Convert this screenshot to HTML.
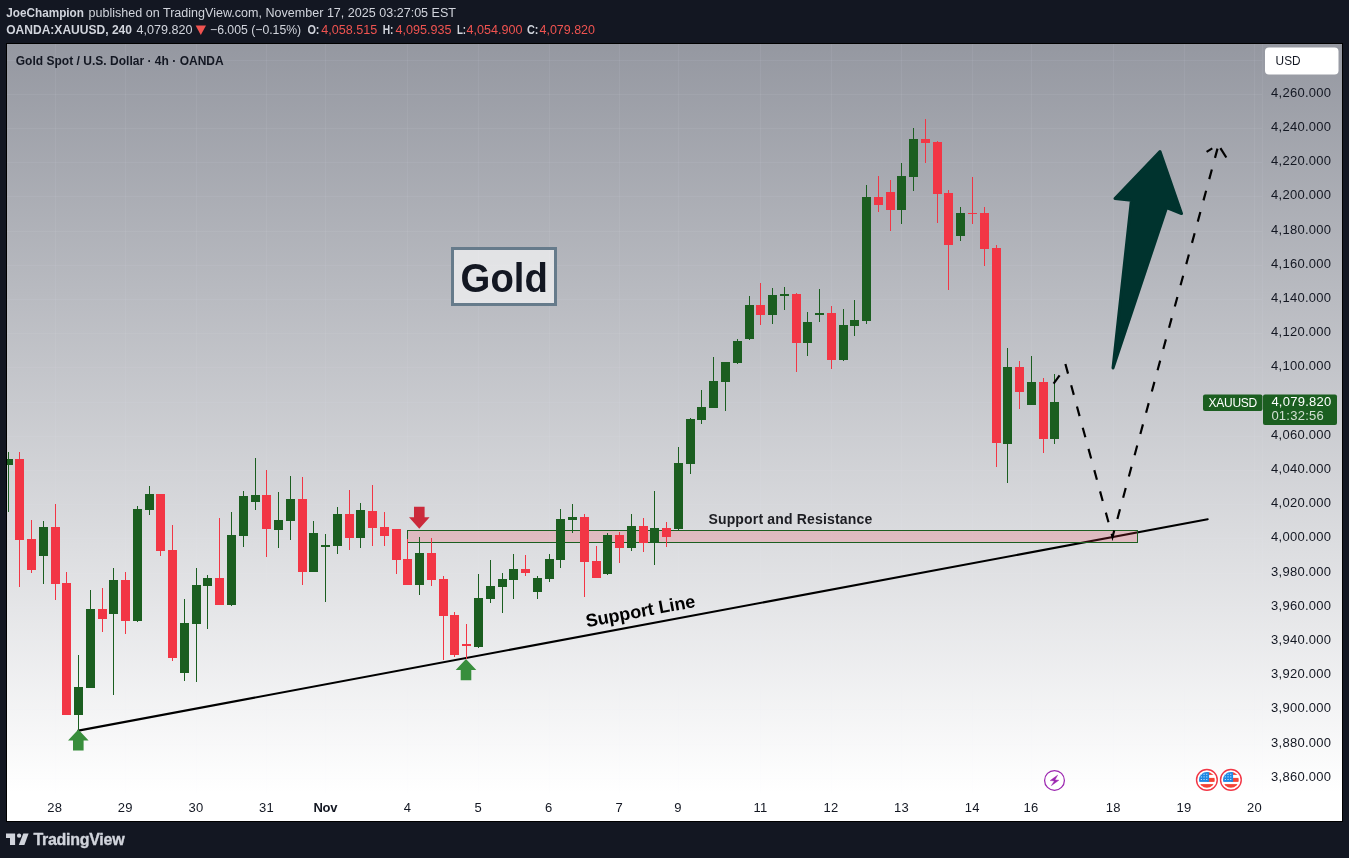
<!DOCTYPE html>
<html lang="en"><head><meta charset="utf-8"><title>Gold Spot / U.S. Dollar</title>
<style>
html,body{margin:0;padding:0}
body{width:1349px;height:858px;background:#131722;overflow:hidden;position:relative;font-family:"Liberation Sans",sans-serif}
svg{position:absolute;left:0;top:0;will-change:transform}
svg text{font-family:"Liberation Sans",sans-serif}
.ax{font-size:13px;fill:#131722;letter-spacing:.25px}
</style></head><body>
<svg width="1349" height="858" viewBox="0 0 1349 858">
<defs><linearGradient id="bg" x1="0" y1="0" x2="0" y2="1"><stop offset="0" stop-color="#9598a1"/><stop offset="1" stop-color="#ffffff"/></linearGradient>
<clipPath id="cp"><rect x="7" y="44" width="1335" height="777"/></clipPath></defs>
<rect x="6" y="43" width="1337" height="779" fill="#000"/>
<rect x="7" y="44" width="1335" height="777" fill="#fff"/>
<rect x="7" y="44" width="1335" height="749" fill="url(#bg)"/>
<g stroke="#f0f3fa" stroke-opacity="0.065" stroke-width="1" shape-rendering="crispEdges">
<line x1="55.5" y1="44" x2="55.5" y2="793"/>
<line x1="125.5" y1="44" x2="125.5" y2="793"/>
<line x1="196.5" y1="44" x2="196.5" y2="793"/>
<line x1="266.5" y1="44" x2="266.5" y2="793"/>
<line x1="325.5" y1="44" x2="325.5" y2="793"/>
<line x1="407.5" y1="44" x2="407.5" y2="793"/>
<line x1="478.5" y1="44" x2="478.5" y2="793"/>
<line x1="549.5" y1="44" x2="549.5" y2="793"/>
<line x1="619.5" y1="44" x2="619.5" y2="793"/>
<line x1="678.5" y1="44" x2="678.5" y2="793"/>
<line x1="760.5" y1="44" x2="760.5" y2="793"/>
<line x1="831.5" y1="44" x2="831.5" y2="793"/>
<line x1="901.5" y1="44" x2="901.5" y2="793"/>
<line x1="972.5" y1="44" x2="972.5" y2="793"/>
<line x1="1031.5" y1="44" x2="1031.5" y2="793"/>
<line x1="1113.5" y1="44" x2="1113.5" y2="793"/>
<line x1="1184.5" y1="44" x2="1184.5" y2="793"/>
<line x1="1254.5" y1="44" x2="1254.5" y2="793"/>
<line x1="7" y1="778.5" x2="1262" y2="778.5"/>
<line x1="7" y1="744.5" x2="1262" y2="744.5"/>
<line x1="7" y1="709.5" x2="1262" y2="709.5"/>
<line x1="7" y1="675.5" x2="1262" y2="675.5"/>
<line x1="7" y1="641.5" x2="1262" y2="641.5"/>
<line x1="7" y1="607.5" x2="1262" y2="607.5"/>
<line x1="7" y1="573.5" x2="1262" y2="573.5"/>
<line x1="7" y1="538.5" x2="1262" y2="538.5"/>
<line x1="7" y1="504.5" x2="1262" y2="504.5"/>
<line x1="7" y1="470.5" x2="1262" y2="470.5"/>
<line x1="7" y1="436.5" x2="1262" y2="436.5"/>
<line x1="7" y1="402.5" x2="1262" y2="402.5"/>
<line x1="7" y1="367.5" x2="1262" y2="367.5"/>
<line x1="7" y1="333.5" x2="1262" y2="333.5"/>
<line x1="7" y1="299.5" x2="1262" y2="299.5"/>
<line x1="7" y1="265.5" x2="1262" y2="265.5"/>
<line x1="7" y1="231.5" x2="1262" y2="231.5"/>
<line x1="7" y1="196.5" x2="1262" y2="196.5"/>
<line x1="7" y1="162.5" x2="1262" y2="162.5"/>
<line x1="7" y1="128.5" x2="1262" y2="128.5"/>
<line x1="7" y1="94.5" x2="1262" y2="94.5"/>
<line x1="7" y1="60.5" x2="1262" y2="60.5"/>
<line x1="1262.5" y1="44" x2="1262.5" y2="793"/>
</g>
<line x1="78.4" y1="730.6" x2="1207.7" y2="519.2" stroke="#000" stroke-width="2.1" stroke-linecap="round"/>
<rect x="407.5" y="530.5" width="730" height="12" fill="#f23645" fill-opacity="0.2" stroke="#1b5e20" stroke-width="1"/>
<g clip-path="url(#cp)" shape-rendering="crispEdges">
<rect x="8" y="452" width="1" height="60" fill="#1b5e20"/><rect x="4" y="459" width="9" height="6" fill="#1b5e20"/>
<rect x="19" y="452" width="1" height="135" fill="#f23645"/><rect x="15" y="459" width="9" height="81" fill="#f23645"/>
<rect x="31" y="520" width="1" height="53" fill="#f23645"/><rect x="27" y="539" width="9" height="31" fill="#f23645"/>
<rect x="43" y="521" width="1" height="63" fill="#1b5e20"/><rect x="39" y="527" width="9" height="29" fill="#1b5e20"/>
<rect x="55" y="504" width="1" height="96" fill="#f23645"/><rect x="51" y="527" width="9" height="57" fill="#f23645"/>
<rect x="66" y="572" width="1" height="143" fill="#f23645"/><rect x="62" y="583" width="9" height="132" fill="#f23645"/>
<rect x="78" y="655" width="1" height="75" fill="#1b5e20"/><rect x="74" y="687" width="9" height="28" fill="#1b5e20"/>
<rect x="90" y="590" width="1" height="98" fill="#1b5e20"/><rect x="86" y="609" width="9" height="79" fill="#1b5e20"/>
<rect x="102" y="588" width="1" height="44" fill="#f23645"/><rect x="98" y="609" width="9" height="10" fill="#f23645"/>
<rect x="113" y="568" width="1" height="127" fill="#1b5e20"/><rect x="109" y="580" width="9" height="34" fill="#1b5e20"/>
<rect x="125" y="572" width="1" height="62" fill="#f23645"/><rect x="121" y="580" width="9" height="41" fill="#f23645"/>
<rect x="137" y="506" width="1" height="116" fill="#1b5e20"/><rect x="133" y="509" width="9" height="112" fill="#1b5e20"/>
<rect x="149" y="486" width="1" height="29" fill="#1b5e20"/><rect x="145" y="494" width="9" height="16" fill="#1b5e20"/>
<rect x="160" y="494" width="1" height="62" fill="#f23645"/><rect x="156" y="494" width="9" height="57" fill="#f23645"/>
<rect x="172" y="525" width="1" height="136" fill="#f23645"/><rect x="168" y="550" width="9" height="108" fill="#f23645"/>
<rect x="184" y="599" width="1" height="82" fill="#1b5e20"/><rect x="180" y="623" width="9" height="50" fill="#1b5e20"/>
<rect x="196" y="568" width="1" height="114" fill="#1b5e20"/><rect x="192" y="585" width="9" height="39" fill="#1b5e20"/>
<rect x="207" y="575" width="1" height="54" fill="#1b5e20"/><rect x="203" y="578" width="9" height="8" fill="#1b5e20"/>
<rect x="219" y="518" width="1" height="87" fill="#f23645"/><rect x="215" y="578" width="9" height="27" fill="#f23645"/>
<rect x="231" y="512" width="1" height="94" fill="#1b5e20"/><rect x="227" y="535" width="9" height="70" fill="#1b5e20"/>
<rect x="243" y="491" width="1" height="56" fill="#1b5e20"/><rect x="239" y="496" width="9" height="40" fill="#1b5e20"/>
<rect x="255" y="458" width="1" height="52" fill="#1b5e20"/><rect x="251" y="495" width="9" height="7" fill="#1b5e20"/>
<rect x="266" y="470" width="1" height="87" fill="#f23645"/><rect x="262" y="495" width="9" height="34" fill="#f23645"/>
<rect x="278" y="492" width="1" height="56" fill="#1b5e20"/><rect x="274" y="520" width="9" height="10" fill="#1b5e20"/>
<rect x="290" y="476" width="1" height="64" fill="#1b5e20"/><rect x="286" y="499" width="9" height="22" fill="#1b5e20"/>
<rect x="302" y="477" width="1" height="108" fill="#f23645"/><rect x="298" y="499" width="9" height="73" fill="#f23645"/>
<rect x="313" y="521" width="1" height="51" fill="#1b5e20"/><rect x="309" y="533" width="9" height="39" fill="#1b5e20"/>
<rect x="325" y="534" width="1" height="68" fill="#1b5e20"/><rect x="321" y="545" width="9" height="2" fill="#1b5e20"/>
<rect x="337" y="507" width="1" height="47" fill="#1b5e20"/><rect x="333" y="514" width="9" height="32" fill="#1b5e20"/>
<rect x="349" y="490" width="1" height="60" fill="#f23645"/><rect x="345" y="514" width="9" height="24" fill="#f23645"/>
<rect x="360" y="503" width="1" height="45" fill="#1b5e20"/><rect x="356" y="510" width="9" height="28" fill="#1b5e20"/>
<rect x="372" y="485" width="1" height="61" fill="#f23645"/><rect x="368" y="511" width="9" height="17" fill="#f23645"/>
<rect x="384" y="512" width="1" height="34" fill="#f23645"/><rect x="380" y="527" width="9" height="9" fill="#f23645"/>
<rect x="396" y="529" width="1" height="45" fill="#f23645"/><rect x="392" y="529" width="9" height="31" fill="#f23645"/>
<rect x="407" y="539" width="1" height="46" fill="#f23645"/><rect x="403" y="559" width="9" height="26" fill="#f23645"/>
<rect x="419" y="537" width="1" height="58" fill="#1b5e20"/><rect x="415" y="553" width="9" height="32" fill="#1b5e20"/>
<rect x="431" y="538" width="1" height="48" fill="#f23645"/><rect x="427" y="553" width="9" height="27" fill="#f23645"/>
<rect x="443" y="576" width="1" height="84" fill="#f23645"/><rect x="439" y="579" width="9" height="37" fill="#f23645"/>
<rect x="454" y="612" width="1" height="45" fill="#f23645"/><rect x="450" y="615" width="9" height="40" fill="#f23645"/>
<rect x="466" y="624" width="1" height="35" fill="#f23645"/><rect x="462" y="644" width="9" height="2" fill="#f23645"/>
<rect x="478" y="574" width="1" height="74" fill="#1b5e20"/><rect x="474" y="598" width="9" height="49" fill="#1b5e20"/>
<rect x="490" y="560" width="1" height="43" fill="#1b5e20"/><rect x="486" y="586" width="9" height="13" fill="#1b5e20"/>
<rect x="502" y="573" width="1" height="40" fill="#1b5e20"/><rect x="498" y="579" width="9" height="8" fill="#1b5e20"/>
<rect x="513" y="554" width="1" height="45" fill="#1b5e20"/><rect x="509" y="569" width="9" height="11" fill="#1b5e20"/>
<rect x="525" y="555" width="1" height="21" fill="#f23645"/><rect x="521" y="569" width="9" height="4" fill="#f23645"/>
<rect x="537" y="576" width="1" height="23" fill="#1b5e20"/><rect x="533" y="578" width="9" height="14" fill="#1b5e20"/>
<rect x="549" y="554" width="1" height="28" fill="#1b5e20"/><rect x="545" y="559" width="9" height="20" fill="#1b5e20"/>
<rect x="560" y="509" width="1" height="59" fill="#1b5e20"/><rect x="556" y="519" width="9" height="41" fill="#1b5e20"/>
<rect x="572" y="504" width="1" height="29" fill="#1b5e20"/><rect x="568" y="517" width="9" height="3" fill="#1b5e20"/>
<rect x="584" y="514" width="1" height="83" fill="#f23645"/><rect x="580" y="517" width="9" height="45" fill="#f23645"/>
<rect x="596" y="546" width="1" height="32" fill="#f23645"/><rect x="592" y="561" width="9" height="17" fill="#f23645"/>
<rect x="607" y="533" width="1" height="42" fill="#1b5e20"/><rect x="603" y="535" width="9" height="39" fill="#1b5e20"/>
<rect x="619" y="532" width="1" height="31" fill="#f23645"/><rect x="615" y="535" width="9" height="13" fill="#f23645"/>
<rect x="631" y="514" width="1" height="37" fill="#1b5e20"/><rect x="627" y="526" width="9" height="22" fill="#1b5e20"/>
<rect x="643" y="518" width="1" height="34" fill="#f23645"/><rect x="639" y="526" width="9" height="17" fill="#f23645"/>
<rect x="654" y="491" width="1" height="74" fill="#1b5e20"/><rect x="650" y="528" width="9" height="15" fill="#1b5e20"/>
<rect x="666" y="522" width="1" height="25" fill="#f23645"/><rect x="662" y="528" width="9" height="9" fill="#f23645"/>
<rect x="678" y="447" width="1" height="83" fill="#1b5e20"/><rect x="674" y="463" width="9" height="66" fill="#1b5e20"/>
<rect x="690" y="418" width="1" height="56" fill="#1b5e20"/><rect x="686" y="419" width="9" height="45" fill="#1b5e20"/>
<rect x="701" y="390" width="1" height="34" fill="#1b5e20"/><rect x="697" y="407" width="9" height="13" fill="#1b5e20"/>
<rect x="713" y="357" width="1" height="51" fill="#1b5e20"/><rect x="709" y="381" width="9" height="27" fill="#1b5e20"/>
<rect x="725" y="362" width="1" height="49" fill="#1b5e20"/><rect x="721" y="362" width="9" height="20" fill="#1b5e20"/>
<rect x="737" y="339" width="1" height="25" fill="#1b5e20"/><rect x="733" y="341" width="9" height="22" fill="#1b5e20"/>
<rect x="749" y="296" width="1" height="44" fill="#1b5e20"/><rect x="745" y="305" width="9" height="34" fill="#1b5e20"/>
<rect x="760" y="283" width="1" height="42" fill="#f23645"/><rect x="756" y="305" width="9" height="10" fill="#f23645"/>
<rect x="772" y="288" width="1" height="36" fill="#1b5e20"/><rect x="768" y="295" width="9" height="20" fill="#1b5e20"/>
<rect x="784" y="287" width="1" height="23" fill="#1b5e20"/><rect x="780" y="294" width="9" height="2" fill="#1b5e20"/>
<rect x="796" y="293" width="1" height="79" fill="#f23645"/><rect x="792" y="294" width="9" height="49" fill="#f23645"/>
<rect x="807" y="312" width="1" height="44" fill="#1b5e20"/><rect x="803" y="322" width="9" height="21" fill="#1b5e20"/>
<rect x="819" y="289" width="1" height="33" fill="#1b5e20"/><rect x="815" y="313" width="9" height="2" fill="#1b5e20"/>
<rect x="831" y="306" width="1" height="63" fill="#f23645"/><rect x="827" y="313" width="9" height="47" fill="#f23645"/>
<rect x="843" y="309" width="1" height="52" fill="#1b5e20"/><rect x="839" y="325" width="9" height="35" fill="#1b5e20"/>
<rect x="854" y="300" width="1" height="36" fill="#1b5e20"/><rect x="850" y="320" width="9" height="6" fill="#1b5e20"/>
<rect x="866" y="185" width="1" height="139" fill="#1b5e20"/><rect x="862" y="197" width="9" height="124" fill="#1b5e20"/>
<rect x="878" y="176" width="1" height="36" fill="#f23645"/><rect x="874" y="197" width="9" height="8" fill="#f23645"/>
<rect x="890" y="180" width="1" height="51" fill="#f23645"/><rect x="886" y="192" width="9" height="18" fill="#f23645"/>
<rect x="901" y="163" width="1" height="61" fill="#1b5e20"/><rect x="897" y="176" width="9" height="34" fill="#1b5e20"/>
<rect x="913" y="128" width="1" height="63" fill="#1b5e20"/><rect x="909" y="139" width="9" height="38" fill="#1b5e20"/>
<rect x="925" y="119" width="1" height="44" fill="#f23645"/><rect x="921" y="139" width="9" height="4" fill="#f23645"/>
<rect x="937" y="141" width="1" height="82" fill="#f23645"/><rect x="933" y="142" width="9" height="52" fill="#f23645"/>
<rect x="948" y="190" width="1" height="100" fill="#f23645"/><rect x="944" y="193" width="9" height="52" fill="#f23645"/>
<rect x="960" y="207" width="1" height="34" fill="#1b5e20"/><rect x="956" y="213" width="9" height="23" fill="#1b5e20"/>
<rect x="972" y="177" width="1" height="47" fill="#f23645"/><rect x="968" y="213" width="9" height="1" fill="#f23645"/>
<rect x="984" y="207" width="1" height="59" fill="#f23645"/><rect x="980" y="213" width="9" height="36" fill="#f23645"/>
<rect x="996" y="245" width="1" height="222" fill="#f23645"/><rect x="992" y="248" width="9" height="195" fill="#f23645"/>
<rect x="1007" y="348" width="1" height="135" fill="#1b5e20"/><rect x="1003" y="367" width="9" height="77" fill="#1b5e20"/>
<rect x="1019" y="361" width="1" height="48" fill="#f23645"/><rect x="1015" y="367" width="9" height="25" fill="#f23645"/>
<rect x="1031" y="356" width="1" height="49" fill="#1b5e20"/><rect x="1027" y="382" width="9" height="23" fill="#1b5e20"/>
<rect x="1043" y="378" width="1" height="75" fill="#f23645"/><rect x="1039" y="382" width="9" height="57" fill="#f23645"/>
<rect x="1054" y="374" width="1" height="70" fill="#1b5e20"/><rect x="1050" y="402" width="9" height="37" fill="#1b5e20"/>
</g>
<text transform="translate(641.5,617) rotate(-10.6)" text-anchor="middle" font-size="18" font-weight="bold" fill="#000">Support Line</text>
<text x="708.4" y="523.7" font-size="14" font-weight="bold" fill="#1c1d22" textLength="163.8">Support and Resistance</text>
<path d="M78.3 729.4 l10.3 11 h-5 v10.2 h-10.6 v-10.2 h-5 z" fill="#388e3c"/>
<path d="M466 659 l10.3 11 h-5 v10.2 h-10.6 v-10.2 h-5 z" fill="#388e3c"/>
<path d="M419.3 528.8 l10.3 -11.6 h-5 v-10.4 h-10.6 v10.4 h-5 z" fill="#cb2a3b"/>
<rect x="452.5" y="248.5" width="103" height="56" fill="#ffffff" fill-opacity="0.62" stroke="#667b8b" stroke-width="3"/>
<text x="460.6" y="291.6" textLength="87.2" lengthAdjust="spacingAndGlyphs" font-size="40" font-weight="bold" fill="#131722">Gold</text>
<path d="M1160 151.5 L1181.5 213.5 L1166.6 207.5 L1113 368 L1131.4 200.2 L1115 198.5 Z" fill="#00332e" stroke="#00332e" stroke-width="3" stroke-linejoin="round"/>
<g stroke="#000" stroke-width="2.2" fill="none">
<line x1="1053.6" y1="383.6" x2="1059.6" y2="375.4"/>
<path d="M1065.4 364 L1112.5 537 L1217.5 148.6" stroke-dasharray="10 12"/>
<line x1="1212.3" y1="148.4" x2="1206.6" y2="151.9"/>
<line x1="1220.4" y1="148.2" x2="1226.3" y2="157.5"/>
</g>
<text class="ax" x="1271.1" y="781">3,860.000</text>
<text class="ax" x="1271.1" y="747">3,880.000</text>
<text class="ax" x="1271.1" y="712">3,900.000</text>
<text class="ax" x="1271.1" y="678">3,920.000</text>
<text class="ax" x="1271.1" y="644">3,940.000</text>
<text class="ax" x="1271.1" y="610">3,960.000</text>
<text class="ax" x="1271.1" y="576">3,980.000</text>
<text class="ax" x="1271.1" y="541">4,000.000</text>
<text class="ax" x="1271.1" y="507">4,020.000</text>
<text class="ax" x="1271.1" y="473">4,040.000</text>
<text class="ax" x="1271.1" y="439">4,060.000</text>
<text class="ax" x="1271.1" y="370">4,100.000</text>
<text class="ax" x="1271.1" y="336">4,120.000</text>
<text class="ax" x="1271.1" y="302">4,140.000</text>
<text class="ax" x="1271.1" y="268">4,160.000</text>
<text class="ax" x="1271.1" y="234">4,180.000</text>
<text class="ax" x="1271.1" y="199">4,200.000</text>
<text class="ax" x="1271.1" y="165">4,220.000</text>
<text class="ax" x="1271.1" y="131">4,240.000</text>
<text class="ax" x="1271.1" y="97">4,260.000</text>
<rect x="1265" y="47.5" width="73.5" height="27" rx="4" fill="#fff"/>
<text x="1275.6" y="65.3" font-size="13" fill="#131722" textLength="25" lengthAdjust="spacingAndGlyphs">USD</text>
<rect x="1203" y="394.5" width="59.5" height="16.5" rx="2" fill="#1b5e20"/>
<text x="1208.6" y="407" font-size="12" fill="#fff" textLength="48.6">XAUUSD</text>
<rect x="1263" y="394.5" width="74" height="30.5" rx="2" fill="#1b5e20"/>
<text x="1271.4" y="406" font-size="13" fill="#fff" letter-spacing=".25">4,079.820</text>
<text x="1271.4" y="420" font-size="13" fill="#fff" fill-opacity=".8" letter-spacing=".25">01:32:56</text>
<text class="ax" x="54.7" y="812.3" text-anchor="middle">28</text>
<text class="ax" x="125.3" y="812.3" text-anchor="middle">29</text>
<text class="ax" x="195.9" y="812.3" text-anchor="middle">30</text>
<text class="ax" x="266.5" y="812.3" text-anchor="middle">31</text>
<text class="ax" x="325.3" y="812.3" text-anchor="middle" font-weight="bold" style="letter-spacing:-.3px">Nov</text>
<text class="ax" x="407.6" y="812.3" text-anchor="middle">4</text>
<text class="ax" x="478.2" y="812.3" text-anchor="middle">5</text>
<text class="ax" x="548.7" y="812.3" text-anchor="middle">6</text>
<text class="ax" x="619.3" y="812.3" text-anchor="middle">7</text>
<text class="ax" x="678.1" y="812.3" text-anchor="middle">9</text>
<text class="ax" x="760.4" y="812.3" text-anchor="middle">11</text>
<text class="ax" x="831.0" y="812.3" text-anchor="middle">12</text>
<text class="ax" x="901.6" y="812.3" text-anchor="middle">13</text>
<text class="ax" x="972.2" y="812.3" text-anchor="middle">14</text>
<text class="ax" x="1031.0" y="812.3" text-anchor="middle">16</text>
<text class="ax" x="1113.3" y="812.3" text-anchor="middle">18</text>
<text class="ax" x="1183.9" y="812.3" text-anchor="middle">19</text>
<text class="ax" x="1254.4" y="812.3" text-anchor="middle">20</text>
<text x="15.7" y="65.3" textLength="208" font-size="12" font-weight="bold" fill="#131722">Gold Spot / U.S. Dollar · 4h · OANDA</text>
<text x="6.2" y="16.9" textLength="77.8" lengthAdjust="spacingAndGlyphs" font-size="12.5" fill="#d1d4dc" font-weight="bold">JoeChampion</text>
<text x="88.5" y="16.9" textLength="367.5" lengthAdjust="spacingAndGlyphs" font-size="12.5" fill="#d1d4dc">published on TradingView.com, November 17, 2025 03:27:05 EST</text>
<text x="6.2" y="34" textLength="125.8" lengthAdjust="spacingAndGlyphs" font-size="12.5" fill="#d1d4dc" font-weight="bold">OANDA:XAUUSD, 240</text>
<text x="136.5" y="34" textLength="56" lengthAdjust="spacingAndGlyphs" font-size="12.5" fill="#d1d4dc">4,079.820</text>
<path d="M195.6 25.5 h10.4 l-5.2 9.5 z" fill="#ef5350"/>
<text x="210" y="34" textLength="91.2" lengthAdjust="spacingAndGlyphs" font-size="12.5" fill="#d1d4dc">&#8722;6.005 (&#8722;0.15%)</text>
<text x="307.4" y="34" textLength="12.1" lengthAdjust="spacingAndGlyphs" font-size="12.5" fill="#d1d4dc" font-weight="bold">O:</text>
<text x="321.3" y="34" textLength="56" lengthAdjust="spacingAndGlyphs" font-size="12.5" fill="#ef5350">4,058.515</text>
<text x="382.7" y="34" textLength="10.8" lengthAdjust="spacingAndGlyphs" font-size="12.5" fill="#d1d4dc" font-weight="bold">H:</text>
<text x="395.5" y="34" textLength="56" lengthAdjust="spacingAndGlyphs" font-size="12.5" fill="#ef5350">4,095.935</text>
<text x="456.9" y="34" textLength="9.2" lengthAdjust="spacingAndGlyphs" font-size="12.5" fill="#d1d4dc" font-weight="bold">L:</text>
<text x="466.5" y="34" textLength="56" lengthAdjust="spacingAndGlyphs" font-size="12.5" fill="#ef5350">4,054.900</text>
<text x="527" y="34" textLength="11.5" lengthAdjust="spacingAndGlyphs" font-size="12.5" fill="#d1d4dc" font-weight="bold">C:</text>
<text x="539.5" y="34" textLength="55.5" lengthAdjust="spacingAndGlyphs" font-size="12.5" fill="#ef5350">4,079.820</text>
<circle cx="1054.5" cy="780.4" r="9.9" fill="#fff" stroke="#9c27b0" stroke-width="1.25"/>
<path d="M1057.7 775.1 L1050.1 780.6 L1054.3 780.9 L1051.3 785.7 L1058.9 780.2 L1055 779.9 Z" fill="#9c27b0" stroke="#9c27b0" stroke-width=".4" stroke-linejoin="round"/>
<circle cx="1206.9" cy="779.9" r="10.35" fill="#fff" stroke="#f23645" stroke-width="1.4"/><clipPath id="f1206"><circle cx="1206.9" cy="779.9" r="7.9"/></clipPath><g clip-path="url(#f1206)"><rect x="1198.9" y="771.9" width="16" height="16" fill="#fff"/><rect x="1206.9" y="771.9" width="8" height="3" fill="#f44336"/><rect x="1206.9" y="777.9" width="8" height="4" fill="#f44336"/><rect x="1198.9" y="784.1" width="16" height="4" fill="#f44336"/><rect x="1198.9" y="771.9" width="10.2" height="10" fill="#1e88e5"/><rect x="1200.8" y="773.8" width="1.1" height="1" fill="#fff" fill-opacity=".8"/><rect x="1200.8" y="776.4" width="1.1" height="1" fill="#fff" fill-opacity=".8"/><rect x="1200.8" y="779.0" width="1.1" height="1" fill="#fff" fill-opacity=".8"/><rect x="1203.5" y="773.8" width="1.1" height="1" fill="#fff" fill-opacity=".8"/><rect x="1203.5" y="776.4" width="1.1" height="1" fill="#fff" fill-opacity=".8"/><rect x="1203.5" y="779.0" width="1.1" height="1" fill="#fff" fill-opacity=".8"/><rect x="1206.2" y="773.8" width="1.1" height="1" fill="#fff" fill-opacity=".8"/><rect x="1206.2" y="776.4" width="1.1" height="1" fill="#fff" fill-opacity=".8"/><rect x="1206.2" y="779.0" width="1.1" height="1" fill="#fff" fill-opacity=".8"/></g>
<circle cx="1230.9" cy="779.9" r="10.35" fill="#fff" stroke="#f23645" stroke-width="1.4"/><clipPath id="f1230"><circle cx="1230.9" cy="779.9" r="7.9"/></clipPath><g clip-path="url(#f1230)"><rect x="1222.9" y="771.9" width="16" height="16" fill="#fff"/><rect x="1230.9" y="771.9" width="8" height="3" fill="#f44336"/><rect x="1230.9" y="777.9" width="8" height="4" fill="#f44336"/><rect x="1222.9" y="784.1" width="16" height="4" fill="#f44336"/><rect x="1222.9" y="771.9" width="10.2" height="10" fill="#1e88e5"/><rect x="1224.8" y="773.8" width="1.1" height="1" fill="#fff" fill-opacity=".8"/><rect x="1224.8" y="776.4" width="1.1" height="1" fill="#fff" fill-opacity=".8"/><rect x="1224.8" y="779.0" width="1.1" height="1" fill="#fff" fill-opacity=".8"/><rect x="1227.5" y="773.8" width="1.1" height="1" fill="#fff" fill-opacity=".8"/><rect x="1227.5" y="776.4" width="1.1" height="1" fill="#fff" fill-opacity=".8"/><rect x="1227.5" y="779.0" width="1.1" height="1" fill="#fff" fill-opacity=".8"/><rect x="1230.2" y="773.8" width="1.1" height="1" fill="#fff" fill-opacity=".8"/><rect x="1230.2" y="776.4" width="1.1" height="1" fill="#fff" fill-opacity=".8"/><rect x="1230.2" y="779.0" width="1.1" height="1" fill="#fff" fill-opacity=".8"/></g>
<g fill="#d1d4dc"><path d="M6 833.5 H15.1 V845 H10 V838.1 H6 Z"/><circle cx="19.1" cy="835.7" r="2.15"/><path d="M23.3 833.5 H28.6 L24.4 845 H18.8 Z"/></g>
<text x="33.4" y="844.9" font-size="16" font-weight="bold" fill="#d1d4dc" stroke="#d1d4dc" stroke-width=".35" textLength="91.2">TradingView</text>
</svg>
</body></html>
